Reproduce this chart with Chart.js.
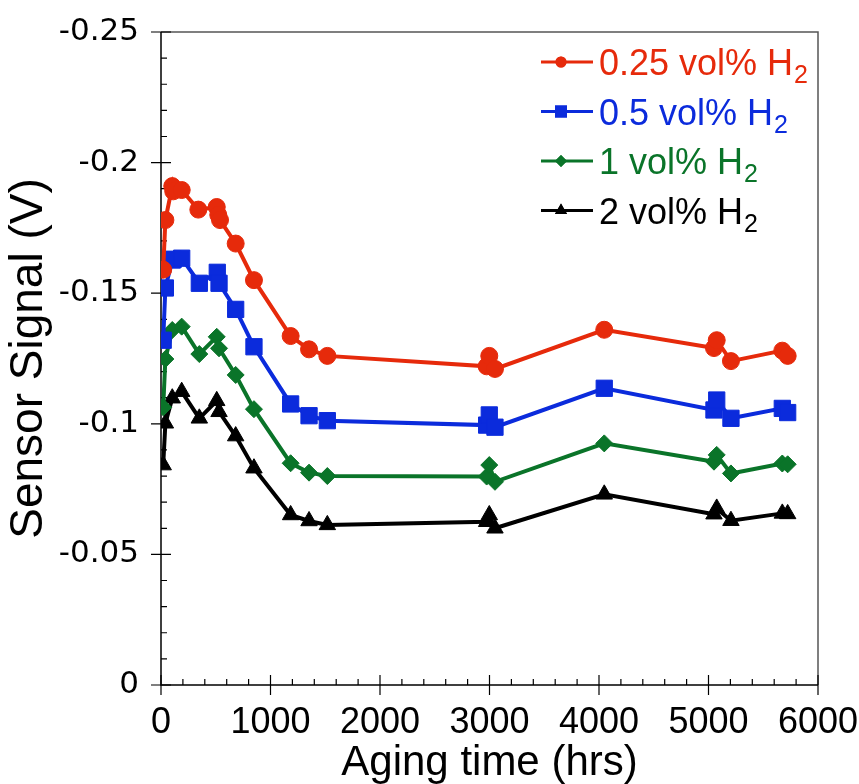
<!DOCTYPE html>
<html>
<head>
<meta charset="utf-8">
<script src="https://cdn.jsdelivr.net/npm/chart.js@4/dist/chart.umd.min.js"></script>
<style>
  html, body { margin: 0; padding: 0; background: #fff; }
  canvas { display: block; }
</style>
</head>
<body>
<canvas id="agingChart" width="859" height="784"></canvas>
<script>
// values (hours, volts)
const seriesNames = ['0.25 vol% H', '0.5 vol% H', '1 vol% H', '2 vol% H'];

const timeH025 = [20, 40, 103, 112, 189, 341, 509, 523, 539, 682, 849, 1184, 1352, 1519, 2974, 2998, 3050, 4048, 5050, 5075, 5205, 5674, 5723];
const signalH025 = [-0.159, -0.178, -0.191, -0.189, -0.1895, -0.182, -0.183, -0.180, -0.178, -0.169, -0.155, -0.1336, -0.1285, -0.126, -0.122, -0.126, -0.121, -0.136, -0.129, -0.132, -0.124, -0.128, -0.126];

const timeH05 = [20, 40, 103, 112, 189, 350, 514, 530, 682, 849, 1184, 1352, 1519, 2974, 2998, 3050, 4048, 5050, 5075, 5205, 5674, 5723];
const signalH05 = [-0.132, -0.152, -0.1627, -0.163, -0.1634, -0.1538, -0.158, -0.1538, -0.1438, -0.1295, -0.1076, -0.1031, -0.1012, -0.0995, -0.1034, -0.0987, -0.1136, -0.1053, -0.1091, -0.1021, -0.1059, -0.1043];

const timeH1 = [20, 40, 103, 189, 350, 509, 530, 682, 849, 1184, 1352, 1519, 2974, 2998, 3050, 4048, 5050, 5075, 5205, 5674, 5723];
const signalH1 = [-0.1063, -0.1248, -0.1359, -0.1372, -0.1267, -0.1333, -0.1289, -0.1187, -0.1056, -0.0849, -0.0813, -0.080, -0.0798, -0.0842, -0.0778, -0.0925, -0.0855, -0.0881, -0.081, -0.0848, -0.0845];

const timeH2 = [20, 40, 103, 189, 350, 509, 530, 682, 849, 1184, 1352, 1519, 2974, 2998, 3050, 4048, 5050, 5075, 5205, 5674, 5723];
const signalH2 = [-0.0842, -0.1002, -0.1098, -0.1123, -0.1021, -0.1088, -0.1046, -0.0953, -0.083, -0.0651, -0.0628, -0.0613, -0.0625, -0.0651, -0.060, -0.073, -0.0654, -0.0676, -0.0629, -0.0657, -0.0655];

const xTickValues = [0, 1000, 2000, 3000, 4000, 5000, 6000];
const yTickValues = [-0.25, -0.2, -0.15, -0.1, -0.05, 0];

const colors = ['#e62a0b', '#0b2bdc', '#0a7429', '#000000'];
const styles = ['circle', 'rect', 'rectRot', 'triangle'];
const radii = [8.5, 11.5, 8.5, 9.5];
const legendRadii = [5.5, 8.5, 6, 7];

function pts(ts, vs) {
  return ts.map((t, i) => ({ x: t, y: vs[i] }));
}

const seriesData = [
  pts(timeH025, signalH025),
  pts(timeH05, signalH05),
  pts(timeH1, signalH1),
  pts(timeH2, signalH2)
];

// frame + crossing major ticks + inner minor ticks
const frameTicks = {
  id: 'frameTicks',
  beforeDatasetsDraw(chart) {
    const { ctx, chartArea: a, scales: { x, y } } = chart;
    ctx.save();
    ctx.lineWidth = 1.5;
    ctx.strokeStyle = '#555';
    ctx.beginPath();
    ctx.moveTo(a.left, a.top);
    ctx.lineTo(a.right, a.top);
    ctx.lineTo(a.right, a.bottom);
    ctx.stroke();

    ctx.strokeStyle = '#000';
    ctx.beginPath();
    ctx.moveTo(a.left, a.top);
    ctx.lineTo(a.left, a.bottom);
    ctx.lineTo(a.right, a.bottom);
    ctx.stroke();

    ctx.lineWidth = 1.2;
    ctx.beginPath();
    for (let v = 0; v <= 6000; v += 200) {
      const px = x.getPixelForValue(v);
      const major = v % 1000 === 0;
      ctx.moveTo(px, a.bottom + (major ? 10 : 0));
      ctx.lineTo(px, a.bottom - (major ? 10 : 6));
    }
    for (let k = 0; k <= 25; k++) {
      const py = y.getPixelForValue(-k / 100);
      const major = k % 5 === 0;
      ctx.moveTo(a.left - (major ? 10 : 0), py);
      ctx.lineTo(a.left + (major ? 10 : 6), py);
    }
    ctx.stroke();
    ctx.restore();
  }
};

// legend: line + marker, coloured text, subscript 2
const subLegend = {
  id: 'subLegend',
  afterDraw(chart) {
    const { ctx, chartArea: a } = chart;
    const x0 = a.right - 277;
    ctx.save();
    chart.data.datasets.forEach((ds, i) => {
      const yc = a.top + 30 + i * 49.5;
      ctx.strokeStyle = ds.borderColor;
      ctx.lineWidth = 3;
      ctx.beginPath();
      ctx.moveTo(x0, yc);
      ctx.lineTo(x0 + 52, yc);
      ctx.stroke();
      ctx.fillStyle = ds.borderColor;
      Chart.helpers.drawPoint(ctx, {
        pointStyle: styles[i], radius: legendRadii[i], borderWidth: 0, rotation: 0
      }, x0 + 20, yc);
      ctx.fill();

      ctx.textBaseline = 'alphabetic';
      ctx.textAlign = 'left';
      ctx.font = '36px "Liberation Sans", Arial, sans-serif';
      ctx.fillText(ds.label, x0 + 58, yc + 13);
      const w = ctx.measureText(ds.label).width;
      ctx.font = '25px "Liberation Sans", Arial, sans-serif';
      ctx.fillText('2', x0 + 59 + w, yc + 21);
    });
    ctx.restore();
  }
};

const ctx = document.getElementById('agingChart').getContext('2d');

new Chart(ctx, {
  type: 'line',
  data: {
    datasets: seriesData.map((d, i) => ({
      label: seriesNames[i],
      data: d,
      borderColor: colors[i],
      backgroundColor: colors[i],
      pointBackgroundColor: colors[i],
      pointBorderColor: colors[i],
      pointBorderWidth: 1,
      borderWidth: 4,
      pointStyle: styles[i],
      pointRadius: radii[i],
      tension: 0,
      fill: false
    }))
  },
  options: {
    responsive: false,
    animation: false,
    devicePixelRatio: 1,
    layout: { padding: { top: 32, right: 41, left: 0, bottom: 0 } },
    plugins: {
      legend: { display: false },
      tooltip: { enabled: false }
    },
    scales: {
      x: {
        type: 'linear',
        min: 0,
        max: 6000,
        grid: { display: false, drawTicks: false },
        border: { display: false },
        afterBuildTicks: s => { s.ticks = xTickValues.map(v => ({ value: v })); },
        afterFit: s => { s.height = 99; s.paddingLeft = 0; s.paddingRight = 0; },
        ticks: {
          color: '#000',
          padding: 16,
          maxRotation: 0,
          callback: v => String(v),
          font: { family: '"Liberation Sans", Arial, sans-serif', size: 36 }
        },
        title: {
          display: true,
          text: 'Aging time (hrs)',
          color: '#000',
          font: { family: '"Liberation Sans", Arial, sans-serif', size: 42, lineHeight: 1 },
          padding: { top: 0, bottom: 0 }
        }
      },
      y: {
        type: 'linear',
        min: -0.25,
        max: 0,
        reverse: true,
        grid: { display: false, drawTicks: false },
        border: { display: false },
        afterBuildTicks: s => { s.ticks = yTickValues.map(v => ({ value: v })); },
        afterFit: s => { s.width = 161; s.paddingTop = 0; s.paddingBottom = 0; },
        ticks: {
          color: '#000',
          padding: 22,
          callback: v => String(v),
          font: { family: '"DejaVu Sans", sans-serif', size: 31 }
        },
        title: {
          display: true,
          text: 'Sensor Signal (V)',
          color: '#000',
          font: { family: '"Liberation Sans", Arial, sans-serif', size: 46, lineHeight: 1 },
          padding: { top: 6, bottom: 0 }
        }
      }
    }
  },
  plugins: [frameTicks, subLegend]
});
</script>
</body>
</html>
